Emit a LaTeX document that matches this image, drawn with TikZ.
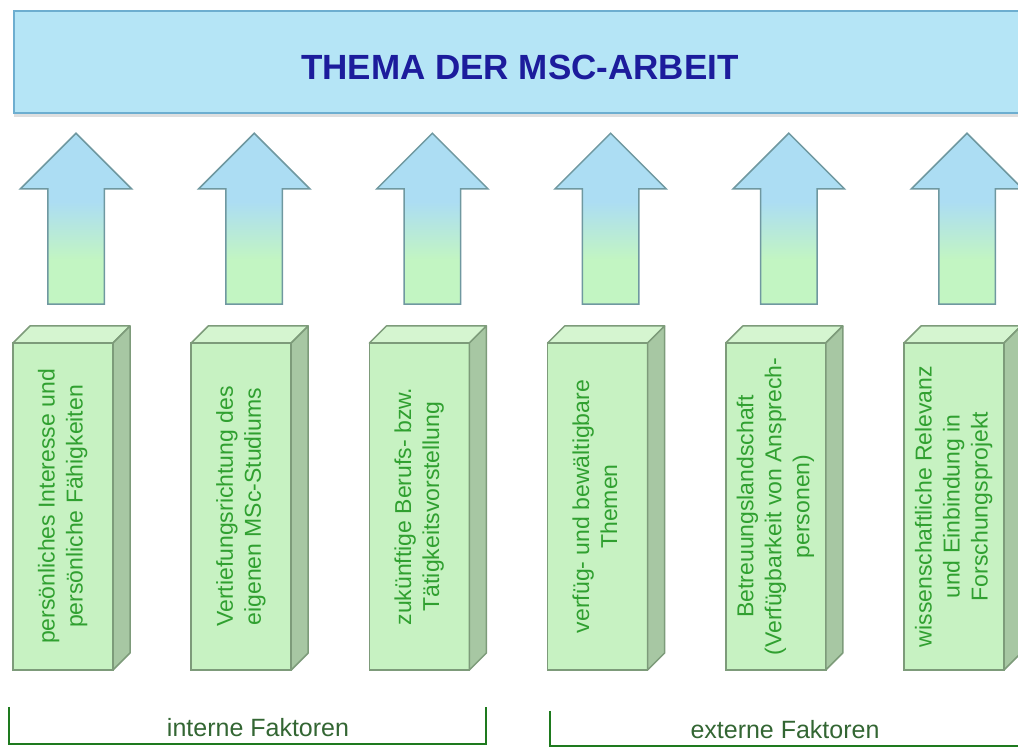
\documentclass[tikz,border=0pt]{standalone}
\usepackage{fontspec}
\setmainfont{Liberation Sans}
\usepackage{tikz}
\usetikzlibrary{positioning}
\usetikzlibrary{shapes.arrows}
\usetikzlibrary{shadows}
\definecolor{bannerblue}{HTML}{B5E5F6}
\definecolor{bannerline}{HTML}{6DAED0}
\definecolor{titleblue}{HTML}{1C1C9C}
\definecolor{arrowblue}{HTML}{ACDDF3}
\definecolor{arrowgreen}{HTML}{C2F5C2}
\definecolor{arrowline}{HTML}{6F98A0}
\definecolor{boxfront}{HTML}{C7F2C2}
\definecolor{boxtop}{HTML}{D5F5D0}
\definecolor{boxside}{HTML}{A7C7A3}
\definecolor{boxline}{HTML}{7D9B7A}
\definecolor{boxtext}{HTML}{30A030}
\definecolor{faktext}{HTML}{336633}
\definecolor{brakgreen}{HTML}{1E7A1E}
\pgfdeclareverticalshading{arrowfade}{100bp}{color(0bp)=(arrowgreen); color(38bp)=(arrowgreen); color(55bp)=(arrowblue); color(100bp)=(arrowblue)}

\begin{document}
\begin{tikzpicture}[x=1pt,y=1pt,
  banner/.style={draw=bannerline,line width=2pt,fill=bannerblue,minimum width=1040pt,minimum height=102pt,inner sep=0pt,
    drop shadow={shadow xshift=0pt,shadow yshift=-4pt,fill=black!25}},
  title/.style={text=titleblue,font=\fontsize{35}{40}\selectfont\bfseries},
  box/.style={draw=boxline,line width=1.5pt,fill=boxfront,minimum width=100pt,minimum height=327pt,inner sep=0pt,outer sep=0pt,
    text=boxtext,font=\fontsize{23}{28}\selectfont},
  face/.style={draw=boxline,line width=1.5pt,line join=round},
  upar/.style={single arrow,shape border rotate=90,draw=arrowline,line width=1.5pt,shade,shading=arrowfade,
    minimum height=171pt,single arrow head extend=27.5pt,inner sep=0pt,anchor=tail},
  fak/.style={text=faktext,font=\fontsize{25}{30}\selectfont},
  brak/.style={draw=brakgreen,line width=2.5pt}]
  \useasboundingbox (0,0) rectangle (1018,747);
  \clip (0,0) rectangle (1018,747);

  \node[banner,anchor=north west] (0) at (13,737){};
  \node[title] (t) at (520,680){THEMA DER MSC-ARBEIT};

  \node[box] (1) at (63,240.5){\rotatebox{90}{\begin{tabular}{@{}c@{}}persönliches Interesse und\\persönliche Fähigkeiten\end{tabular}}};
  \node[box,right=78.2pt of 1] (2){\rotatebox{90}{\begin{tabular}{@{}c@{}}Vertiefungsrichtung des\\eigenen MSc-Studiums\end{tabular}}};
  \node[box,right=78.2pt of 2] (3){\rotatebox{90}{\begin{tabular}{@{}c@{}}zukünftige Berufs- bzw.\\Tätigkeitsvorstellung\end{tabular}}};
  \node[box,right=78.2pt of 3] (4){\rotatebox{90}{\begin{tabular}{@{}c@{}}verfüg- und bewältigbare\\Themen\end{tabular}}};
  \node[box,right=78.2pt of 4] (5){\rotatebox{90}{\begin{tabular}{@{}c@{}}Betreuungslandschaft\\(Verfügbarkeit von Ansprech-\\personen)\end{tabular}}};
  \node[box,right=78.2pt of 5] (6){\rotatebox{90}{\begin{tabular}{@{}c@{}}wissenschaftliche Relevanz\\und Einbindung in\\Forschungsprojekt\end{tabular}}};

  % top and side faces of the boxes
  \draw[face,fill=boxtop](1.north west)--++(17,17)--++(100,0)--(1.north east)--cycle;
  \draw[face,fill=boxside](1.north east)--++(17,17)--++(0,-327)--(1.south east)--cycle;
  \draw[face,fill=boxtop](2.north west)--++(17,17)--++(100,0)--(2.north east)--cycle;
  \draw[face,fill=boxside](2.north east)--++(17,17)--++(0,-327)--(2.south east)--cycle;
  \draw[face,fill=boxtop](3.north west)--++(17,17)--++(100,0)--(3.north east)--cycle;
  \draw[face,fill=boxside](3.north east)--++(17,17)--++(0,-327)--(3.south east)--cycle;
  \draw[face,fill=boxtop](4.north west)--++(17,17)--++(100,0)--(4.north east)--cycle;
  \draw[face,fill=boxside](4.north east)--++(17,17)--++(0,-327)--(4.south east)--cycle;
  \draw[face,fill=boxtop](5.north west)--++(17,17)--++(100,0)--(5.north east)--cycle;
  \draw[face,fill=boxside](5.north east)--++(17,17)--++(0,-327)--(5.south east)--cycle;
  \draw[face,fill=boxtop](6.north west)--++(17,17)--++(100,0)--(6.north east)--cycle;
  \draw[face,fill=boxside](6.north east)--++(17,17)--++(0,-327)--(6.south east)--cycle;

  \node[upar] (a1) at ([xshift=13pt,yshift=38pt]1.north){\rule{55pt}{0pt}\rule{0pt}{55pt}};
  \node[upar] (a2) at ([xshift=13pt,yshift=38pt]2.north){\rule{55pt}{0pt}\rule{0pt}{55pt}};
  \node[upar] (a3) at ([xshift=13pt,yshift=38pt]3.north){\rule{55pt}{0pt}\rule{0pt}{55pt}};
  \node[upar] (a4) at ([xshift=13pt,yshift=38pt]4.north){\rule{55pt}{0pt}\rule{0pt}{55pt}};
  \node[upar] (a5) at ([xshift=13pt,yshift=38pt]5.north){\rule{55pt}{0pt}\rule{0pt}{55pt}};
  \node[upar] (a6) at ([xshift=13pt,yshift=38pt]6.north){\rule{55pt}{0pt}\rule{0pt}{55pt}};

  \node[fak] (int) at (258,19){interne Faktoren};
  \node[fak] (ext) at (785,17){externe Faktoren};
  \draw[brak](9,40)|-(486,3)--(486,40);
  \draw[brak](550,36)|-(1030,1);
\end{tikzpicture}
\end{document}
